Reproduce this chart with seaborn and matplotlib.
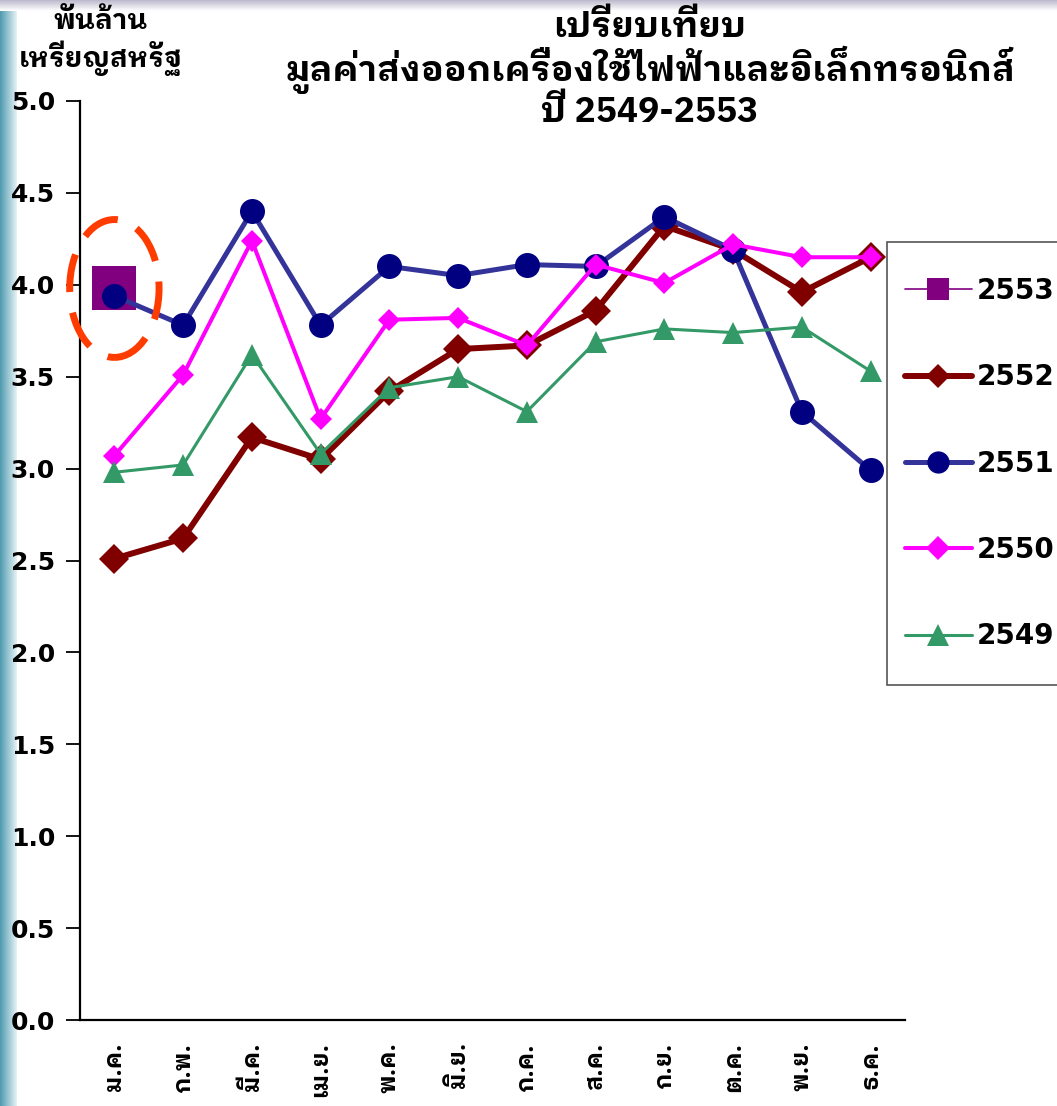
import numpy as np
import pandas as pd
import matplotlib
matplotlib.use("Agg")
import matplotlib.pyplot as plt
from matplotlib.patches import Ellipse, Rectangle
import seaborn as sns

sns.set_theme(style="white")
plt.rcParams['font.family'] = ['DejaVu Sans', 'IBM Plex Sans Thai Looped', 'Noto Sans Thai Looped']
plt.rcParams['font.weight'] = 'bold'
plt.rcParams['text.color'] = 'black'
plt.rcParams['xtick.color'] = 'black'
plt.rcParams['ytick.color'] = 'black'
THAI = ['IBM Plex Sans Thai Looped', 'DejaVu Sans']

months = ["ม.ค.", "ก.พ.", "มี.ค.", "เม.ย.", "พ.ค.", "มิ.ย.",
          "ก.ค.", "ส.ค.", "ก.ย.", "ต.ค.", "พ.ย.", "ธ.ค."]
v2553 = [3.98]
v2552 = [2.51, 2.62, 3.17, 3.05, 3.42, 3.65, 3.67, 3.86, 4.32, 4.19, 3.96, 4.15]
v2551 = [3.94, 3.78, 4.40, 3.78, 4.10, 4.05, 4.11, 4.10, 4.37, 4.19, 3.31, 2.99]
v2550 = [3.07, 3.51, 4.24, 3.27, 3.81, 3.82, 3.67, 4.11, 4.01, 4.22, 4.15, 4.15]
v2549 = [2.98, 3.02, 3.62, 3.08, 3.44, 3.50, 3.31, 3.69, 3.76, 3.74, 3.77, 3.53]
yticks = np.arange(0, 5.01, 0.5)

# series styles: (label, values, line colour, marker colour, marker, line width, marker size, legend marker size)
series = [
    ("2553", v2553, "#800080", "#800080", "s", 1.2, 32, 16),
    ("2552", v2552, "#800000", "#800000", "D", 4.3, 15, 12),
    ("2551", v2551, "#333399", "#000080", "o", 3.6, 18, 16),
    ("2550", v2550, "#FF00FF", "#FF00FF", "D", 2.9, 11.5, 12),
    ("2549", v2549, "#339966", "#339966", "^", 2.2, 16, 16),
]

fig = plt.figure(figsize=(10.57, 11.06), dpi=100)

# slide background strips
bg = fig.add_axes([0, 0, 0.016, 1])
bg.imshow(np.linspace(0, 1, 50).reshape(1, -1), aspect="auto",
          cmap=matplotlib.colors.LinearSegmentedColormap.from_list("l", ["#4f9bb0", "#e6f2f6"]))
bg.axis("off")
top = fig.add_axes([0, 0.99, 1, 0.01])
top.imshow(np.linspace(0, 1, 20).reshape(-1, 1), aspect="auto",
           cmap=matplotlib.colors.LinearSegmentedColormap.from_list("t", ["#b7b3c8", "#ffffff"]))
top.axis("off")

ax = fig.add_axes([80 / 1057, 86 / 1106, 825 / 1057, 919 / 1106])
ax.set_facecolor("white")

for i, (lab, vals, lc, mc, mk, lw, ms, _) in enumerate(series):
    df = pd.DataFrame({"x": np.arange(len(vals)), "y": vals})
    sns.lineplot(data=df, x="x", y="y", ax=ax, color=lc, linewidth=lw, marker=mk,
                 markersize=ms, markerfacecolor=mc, markeredgecolor=mc, markeredgewidth=0,
                 label=lab, zorder=2 + i)

ell = Ellipse((0, v2553[0]), width=1.3, height=0.75, fill=False, edgecolor="#FF3C00",
              linewidth=5, linestyle=(0, (5.5, 3)), zorder=10, clip_on=False)
ax.add_patch(ell)

ax.set_xlim(-0.5, 11.5)
ax.set_ylim(0, 5)
ax.set_yticks(yticks)
ax.set_yticklabels([f"{t:.1f}" for t in yticks], fontsize=18, fontweight="bold")
ax.set_xticks(np.arange(12))
ax.set_xticklabels(months, rotation=90, fontsize=17, fontweight="bold", va="top", family=THAI)
ax.set_xticks(np.arange(-0.5, 12, 1), minor=True)
ax.tick_params(axis="x", which="major", length=0, pad=16)
ax.tick_params(axis="x", which="minor", length=9, width=1.3, color="black", direction="out")
ax.tick_params(axis="y", length=10, width=1.3, color="black", direction="out", left=True, pad=8)
ax.set_xlabel("")
ax.set_ylabel("")
for s in ["top", "right"]:
    ax.spines[s].set_visible(False)
for s in ["left", "bottom"]:
    ax.spines[s].set_color("black")
    ax.spines[s].set_linewidth(1.6)
ax.grid(False)

ax.get_legend().remove()
handles, labels = ax.get_legend_handles_labels()
fig.patches.append(Rectangle((887 / 1057, 1 - 685 / 1106), 0.3, 443 / 1106, transform=fig.transFigure,
                             facecolor="white", edgecolor="#555555", linewidth=1.2, zorder=5))
leg = fig.legend(handles, labels, loc="upper left", bbox_to_anchor=(905 / 1057, 1 - 277 / 1106),
                 prop={"weight": "bold", "size": 20}, frameon=False,
                 handlelength=2.4, handletextpad=0.18, labelspacing=2.1,
                 borderpad=0, borderaxespad=0)
leg.set_zorder(6)
for h, s in zip(leg.legend_handles, series):
    h.set_markersize(s[7])

fig.text(650 / 1057, 1 - 70 / 1106,
         "เปรียบเทียบ\nมูลค่าส่งออกเครื่องใช้ไฟฟ้าและอิเล็กทรอนิกส์\nปี 2549-2553",
         ha="center", va="center", fontsize=25.5, fontweight="bold", linespacing=1.05, family=THAI)
fig.text(101 / 1057, 1 - 42 / 1106, "พันล้าน\nเหรียญสหรัฐ", ha="center", va="center",
         fontsize=20, fontweight="bold", linespacing=1.2, family=THAI)

fig.savefig("out.png", dpi=100, facecolor="white")
